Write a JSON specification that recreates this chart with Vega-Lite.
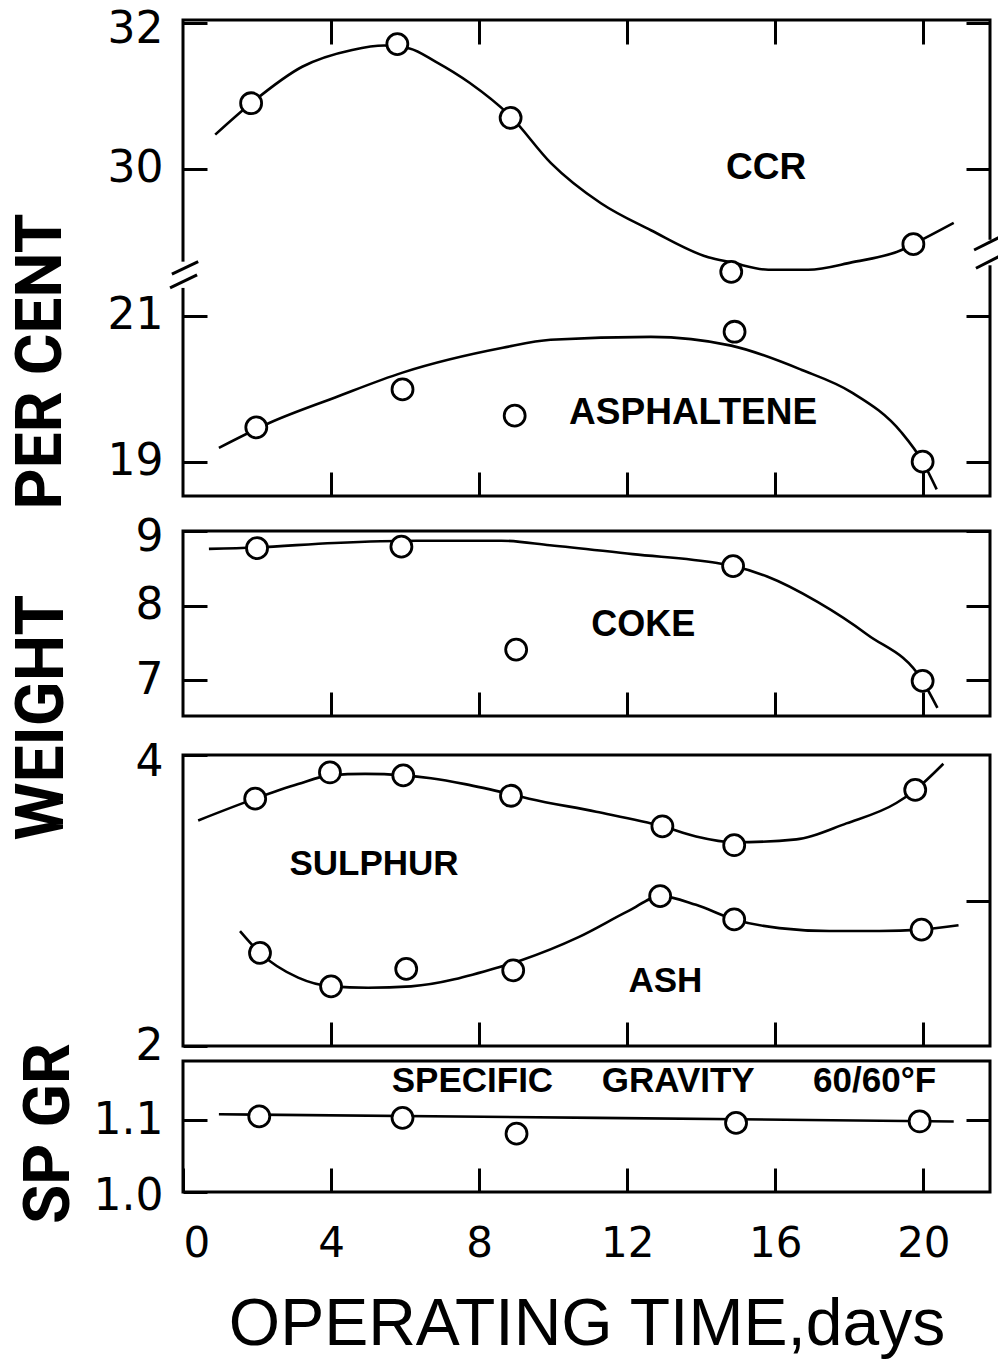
{
  "$schema": "https://vega.github.io/schema/vega-lite/v6.json",
  "background": "white",
  "padding": {"left": 7, "top": 6, "right": 5, "bottom": 0},
  "autosize": {"type": "pad"},
  "datasets": {
    "ccr_curve": [
      {"day": 0.87, "value": 30.47}, {"day": 1.84, "value": 30.9}, {"day": 3.22, "value": 31.4},
      {"day": 4.57, "value": 31.63}, {"day": 5.44, "value": 31.69}, {"day": 6.12, "value": 31.65},
      {"day": 6.82, "value": 31.47}, {"day": 7.74, "value": 31.18}, {"day": 8.85, "value": 30.72},
      {"day": 9.94, "value": 30.08}, {"day": 11.29, "value": 29.53}, {"day": 12.64, "value": 29.16},
      {"day": 14.19, "value": 28.79}, {"day": 14.81, "value": 28.72}, {"day": 15.81, "value": 28.62},
      {"day": 16.89, "value": 28.62}, {"day": 18.06, "value": 28.72}, {"day": 19.41, "value": 28.89},
      {"day": 19.73, "value": 28.97}, {"day": 20.82, "value": 29.26}
    ],
    "ccr_points": [
      {"day": 1.84, "value": 30.9}, {"day": 5.79, "value": 31.71}, {"day": 8.85, "value": 30.7},
      {"day": 14.81, "value": 28.59}, {"day": 19.73, "value": 28.97}
    ],
    "asph_curve": [
      {"day": 0.97, "value": 19.19}, {"day": 2.33, "value": 19.53}, {"day": 4.11, "value": 19.88},
      {"day": 5.93, "value": 20.22}, {"day": 8.64, "value": 20.56}, {"day": 9.93, "value": 20.67},
      {"day": 12.64, "value": 20.71}, {"day": 14.81, "value": 20.59}, {"day": 16.7, "value": 20.26},
      {"day": 18.06, "value": 19.95}, {"day": 19.41, "value": 19.4}, {"day": 19.98, "value": 19.0},
      {"day": 20.36, "value": 18.62}
    ],
    "asph_points": [
      {"day": 1.98, "value": 19.47}, {"day": 5.93, "value": 19.99}, {"day": 8.96, "value": 19.63},
      {"day": 14.9, "value": 20.78}, {"day": 19.98, "value": 19.0}
    ],
    "break_gaps": [
      {"day": -0.1, "day2": 0.1, "lo": 28.37, "hi": 28.73},
      {"day": 21.7, "day2": 21.9, "lo": 28.68, "hi": 29.03}
    ],
    "break_strokes": [
      {"day": -0.3, "value": 28.56, "day2": 0.41, "value2": 28.73},
      {"day": -0.35, "value": 28.37, "day2": 0.38, "value2": 28.55},
      {"day": 21.37, "value": 28.89, "day2": 22.12, "value2": 29.08},
      {"day": 21.42, "value": 28.64, "day2": 22.12, "value2": 28.82}
    ],
    "coke_curve": [
      {"day": 0.7, "value": 8.76}, {"day": 2.0, "value": 8.78}, {"day": 4.09, "value": 8.84},
      {"day": 6.31, "value": 8.87}, {"day": 8.6, "value": 8.87}, {"day": 9.91, "value": 8.81},
      {"day": 12.15, "value": 8.69}, {"day": 14.43, "value": 8.57}, {"day": 14.86, "value": 8.53},
      {"day": 15.78, "value": 8.39}, {"day": 17.14, "value": 8.05}, {"day": 18.49, "value": 7.61},
      {"day": 19.98, "value": 6.99}, {"day": 20.38, "value": 6.63}
    ],
    "coke_points": [
      {"day": 2.0, "value": 8.77}, {"day": 5.9, "value": 8.79}, {"day": 9.0, "value": 7.41},
      {"day": 14.86, "value": 8.53}, {"day": 19.98, "value": 6.99}
    ],
    "sulphur_curve": [
      {"day": 0.41, "value": 3.55}, {"day": 1.95, "value": 3.7}, {"day": 3.11, "value": 3.8},
      {"day": 3.97, "value": 3.86}, {"day": 4.92, "value": 3.87}, {"day": 5.95, "value": 3.86},
      {"day": 6.7, "value": 3.84}, {"day": 7.62, "value": 3.8}, {"day": 8.86, "value": 3.73},
      {"day": 9.35, "value": 3.7}, {"day": 11.16, "value": 3.61}, {"day": 12.95, "value": 3.51},
      {"day": 13.86, "value": 3.44}, {"day": 14.89, "value": 3.4}, {"day": 16.57, "value": 3.42},
      {"day": 17.92, "value": 3.53}, {"day": 19.27, "value": 3.67}, {"day": 19.78, "value": 3.76},
      {"day": 20.54, "value": 3.94}
    ],
    "sulphur_points": [
      {"day": 1.95, "value": 3.7}, {"day": 3.97, "value": 3.88}, {"day": 5.95, "value": 3.86},
      {"day": 8.86, "value": 3.72}, {"day": 12.95, "value": 3.51}, {"day": 14.89, "value": 3.38},
      {"day": 19.78, "value": 3.76}
    ],
    "ash_curve": [
      {"day": 1.54, "value": 2.79}, {"day": 2.08, "value": 2.64}, {"day": 3.11, "value": 2.47},
      {"day": 4.0, "value": 2.41}, {"day": 5.0, "value": 2.4}, {"day": 6.16, "value": 2.41},
      {"day": 8.51, "value": 2.54}, {"day": 9.14, "value": 2.59}, {"day": 10.7, "value": 2.75},
      {"day": 12.05, "value": 2.93}, {"day": 12.89, "value": 3.03}, {"day": 13.86, "value": 2.97},
      {"day": 14.89, "value": 2.87}, {"day": 16.11, "value": 2.81}, {"day": 17.46, "value": 2.79},
      {"day": 18.81, "value": 2.79}, {"day": 19.95, "value": 2.8}, {"day": 20.95, "value": 2.83}
    ],
    "ash_points": [
      {"day": 2.08, "value": 2.64}, {"day": 4.0, "value": 2.41}, {"day": 6.03, "value": 2.53},
      {"day": 8.92, "value": 2.52}, {"day": 12.89, "value": 3.03}, {"day": 14.89, "value": 2.87},
      {"day": 19.95, "value": 2.8}
    ],
    "sg_curve": [
      {"day": 0.97, "value": 1.108}, {"day": 11.2, "value": 1.103}, {"day": 20.82, "value": 1.098}
    ],
    "sg_points": [
      {"day": 2.06, "value": 1.105}, {"day": 5.93, "value": 1.103}, {"day": 9.01, "value": 1.081},
      {"day": 14.94, "value": 1.096}, {"day": 19.9, "value": 1.098}
    ],
    "labels_ccr": [{"label": "CCR", "day": 15.75, "value": 30.01}],
    "labels_asph": [{"label": "ASPHALTENE", "day": 13.78, "value": 19.67}],
    "labels_coke": [{"label": "COKE", "day": 12.43, "value": 7.74}],
    "labels_s_ash": [
      {"label": "SULPHUR", "day": 5.16, "value": 3.25},
      {"label": "ASH", "day": 13.03, "value": 2.45}
    ],
    "labels_sg": [{"label": "SPECIFIC\u00a0\u00a0\u00a0\u00a0\u00a0GRAVITY\u00a0\u00a0\u00a0\u00a0\u00a0\u00a060/60°F", "day": 12.99, "value": 1.154}]
  },
  "config": {
    "font": "Liberation Sans",
    "view": {"stroke": "black", "strokeWidth": 3},
    "axis": {
      "domain": false,
      "grid": false,
      "ticks": true,
      "tickColor": "black",
      "tickWidth": 3,
      "tickSize": -24,
      "labelFont": "DejaVu Sans",
      "labelColor": "black",
      "titleColor": "black"
    },
    "axisX": {"labelFontSize": 42, "labelPadding": 55},
    "axisY": {"labelFontSize": 44, "labelPadding": 44}
  },
  "spacing": 35,
  "bounds": "flush",
  "vconcat": [
    {
      "width": 807,
      "height": 476,
      "resolve": {"scale": {"y": "independent"}, "axis": {"x": "independent", "y": "independent"}},
      "layer": [
        {
          "data": {"name": "break_gaps"},
          "mark": {"type": "rect", "fill": "white"},
          "encoding": {
            "x": {"field": "day", "type": "quantitative", "scale": {"domain": [0, 21.8], "nice": false, "zero": false}, "axis": null},
            "x2": {"field": "day2"},
            "y": {"field": "lo", "type": "quantitative", "scale": {"domain": [25.52, 32.04], "nice": false, "zero": false}, "axis": null},
            "y2": {"field": "hi"}
          }
        },
        {
          "data": {"name": "break_strokes"},
          "mark": {"type": "rule", "stroke": "black", "strokeWidth": 3},
          "encoding": {
            "x": {"field": "day", "type": "quantitative", "scale": {"domain": [0, 21.8], "nice": false, "zero": false}, "axis": null},
            "x2": {"field": "day2"},
            "y": {"field": "value", "type": "quantitative", "scale": {"domain": [25.52, 32.04], "nice": false, "zero": false}, "axis": null},
            "y2": {"field": "value2"}
          }
        },
        {
          "data": {"name": "ccr_curve"},
          "mark": {"type": "line", "stroke": "black", "strokeWidth": 2.6, "interpolate": "monotone"},
          "encoding": {
            "x": {"field": "day", "type": "quantitative", "scale": {"domain": [0, 21.8], "nice": false, "zero": false},
                  "axis": {"orient": "bottom", "values": [4, 8, 12, 16, 20], "labels": false, "title": null}},
            "y": {"field": "value", "type": "quantitative", "scale": {"domain": [25.52, 32.04], "nice": false, "zero": false},
                  "axis": {"orient": "left", "values": [30, 32], "format": "d", "title": null,
                           "labelOffset": {"condition": {"test": "datum.value === 32", "value": 7}, "value": 0}}}
          }
        },
        {
          "data": {"name": "ccr_points"},
          "mark": {"type": "point", "shape": "circle", "filled": true, "fill": "white", "stroke": "black", "strokeWidth": 2.8, "size": 440, "opacity": 1},
          "encoding": {
            "x": {"field": "day", "type": "quantitative", "scale": {"domain": [0, 21.8], "nice": false, "zero": false},
                  "axis": {"orient": "top", "values": [4, 8, 12, 16, 20], "labels": false, "title": null}},
            "y": {"field": "value", "type": "quantitative", "scale": {"domain": [25.52, 32.04], "nice": false, "zero": false},
                  "axis": {"orient": "right", "values": [30, 32], "labels": false, "title": null}}
          }
        },
        {
          "data": {"name": "asph_curve"},
          "mark": {"type": "line", "stroke": "black", "strokeWidth": 2.6, "interpolate": "monotone"},
          "encoding": {
            "x": {"field": "day", "type": "quantitative", "scale": {"domain": [0, 21.8], "nice": false, "zero": false}, "axis": null},
            "y": {"field": "value", "type": "quantitative", "scale": {"domain": [18.53, 25.05], "nice": false, "zero": false},
                  "axis": {"orient": "left", "values": [19, 21], "format": "d", "title": "PER CENT",
                           "titleFont": "Roboto", "titleFontWeight": "bold", "titleFontSize": 64,
                           "titleAngle": -90, "titleBaseline": "alphabetic", "titleAlign": "center",
                           "titleX": -123, "titleY": 341}}
          }
        },
        {
          "data": {"name": "asph_points"},
          "mark": {"type": "point", "shape": "circle", "filled": true, "fill": "white", "stroke": "black", "strokeWidth": 2.8, "size": 440, "opacity": 1},
          "encoding": {
            "x": {"field": "day", "type": "quantitative", "scale": {"domain": [0, 21.8], "nice": false, "zero": false}, "axis": null},
            "y": {"field": "value", "type": "quantitative", "scale": {"domain": [18.53, 25.05], "nice": false, "zero": false},
                  "axis": {"orient": "right", "values": [19, 21], "labels": false, "title": null}}
          }
        },
        {
          "data": {"name": "labels_ccr"},
          "mark": {"type": "text", "font": "Liberation Sans", "fontWeight": "bold", "fontSize": 37, "align": "center", "baseline": "middle", "color": "black"},
          "encoding": {
            "x": {"field": "day", "type": "quantitative", "scale": {"domain": [0, 21.8], "nice": false, "zero": false}, "axis": null},
            "y": {"field": "value", "type": "quantitative", "scale": {"domain": [25.52, 32.04], "nice": false, "zero": false}, "axis": null},
            "text": {"field": "label"}
          }
        },
        {
          "data": {"name": "labels_asph"},
          "mark": {"type": "text", "font": "Liberation Sans", "fontWeight": "bold", "fontSize": 37, "align": "center", "baseline": "middle", "color": "black"},
          "encoding": {
            "x": {"field": "day", "type": "quantitative", "scale": {"domain": [0, 21.8], "nice": false, "zero": false}, "axis": null},
            "y": {"field": "value", "type": "quantitative", "scale": {"domain": [18.53, 25.05], "nice": false, "zero": false}, "axis": null},
            "text": {"field": "label"}
          }
        }
      ]
    },
    {
      "spacing": 39,
      "bounds": "flush",
      "vconcat": [
        {
          "width": 807,
          "height": 185,
          "resolve": {"axis": {"x": "independent", "y": "independent"}},
          "layer": [
            {
              "data": {"name": "coke_curve"},
              "mark": {"type": "line", "stroke": "black", "strokeWidth": 2.6, "interpolate": "monotone"},
              "encoding": {
                "x": {"field": "day", "type": "quantitative", "scale": {"domain": [0, 21.8], "nice": false, "zero": false},
                      "axis": {"orient": "bottom", "values": [4, 8, 12, 16, 20], "labels": false, "title": null}},
                "y": {"field": "value", "type": "quantitative", "scale": {"domain": [6.52, 9.0], "nice": false, "zero": false},
                      "axis": {"orient": "left", "values": [7, 8, 9], "format": "d", "title": "WEIGHT",
                               "labelOffset": {"condition": {"test": "datum.value === 9", "value": 6}, "value": 0},
                               "titleFont": "Roboto", "titleFontWeight": "bold", "titleFontSize": 66,
                               "titleAngle": -90, "titleBaseline": "alphabetic", "titleAlign": "center",
                               "titleX": -121, "titleY": 186}}
              }
            },
            {
              "data": {"name": "coke_points"},
              "mark": {"type": "point", "shape": "circle", "filled": true, "fill": "white", "stroke": "black", "strokeWidth": 2.8, "size": 440, "opacity": 1},
              "encoding": {
                "x": {"field": "day", "type": "quantitative", "scale": {"domain": [0, 21.8], "nice": false, "zero": false}, "axis": null},
                "y": {"field": "value", "type": "quantitative", "scale": {"domain": [6.52, 9.0], "nice": false, "zero": false},
                      "axis": {"orient": "right", "values": [7, 8, 9], "labels": false, "title": null}}
              }
            },
            {
              "data": {"name": "labels_coke"},
              "mark": {"type": "text", "font": "Liberation Sans", "fontWeight": "bold", "fontSize": 36, "align": "center", "baseline": "middle", "color": "black"},
              "encoding": {
                "x": {"field": "day", "type": "quantitative", "scale": {"domain": [0, 21.8], "nice": false, "zero": false}, "axis": null},
                "y": {"field": "value", "type": "quantitative", "scale": {"domain": [6.52, 9.0], "nice": false, "zero": false}, "axis": null},
                "text": {"field": "label"}
              }
            }
          ]
        },
        {
          "spacing": 15,
          "bounds": "flush",
          "vconcat": [
            {
              "width": 807,
              "height": 291,
              "resolve": {"axis": {"x": "independent", "y": "independent"}},
              "layer": [
                {
                  "data": {"name": "sulphur_curve"},
                  "mark": {"type": "line", "stroke": "black", "strokeWidth": 2.6, "interpolate": "monotone"},
                  "encoding": {
                    "x": {"field": "day", "type": "quantitative", "scale": {"domain": [0, 21.8], "nice": false, "zero": false},
                          "axis": {"orient": "bottom", "values": [4, 8, 12, 16, 20], "labels": false, "title": null}},
                    "y": {"field": "value", "type": "quantitative", "scale": {"domain": [2, 4], "nice": false, "zero": false},
                          "axis": {"orient": "left", "values": [2, 3, 4], "format": "d", "title": null,
                                   "labelOffset": {"condition": {"test": "datum.value === 4", "value": 7}, "value": 0}}}
                  }
                },
                {
                  "data": {"name": "ash_curve"},
                  "mark": {"type": "line", "stroke": "black", "strokeWidth": 2.6, "interpolate": "monotone"},
                  "encoding": {
                    "x": {"field": "day", "type": "quantitative", "scale": {"domain": [0, 21.8], "nice": false, "zero": false}, "axis": null},
                    "y": {"field": "value", "type": "quantitative", "scale": {"domain": [2, 4], "nice": false, "zero": false}, "axis": null}
                  }
                },
                {
                  "data": {"name": "sulphur_points"},
                  "mark": {"type": "point", "shape": "circle", "filled": true, "fill": "white", "stroke": "black", "strokeWidth": 2.8, "size": 440, "opacity": 1},
                  "encoding": {
                    "x": {"field": "day", "type": "quantitative", "scale": {"domain": [0, 21.8], "nice": false, "zero": false}, "axis": null},
                    "y": {"field": "value", "type": "quantitative", "scale": {"domain": [2, 4], "nice": false, "zero": false},
                          "axis": {"orient": "right", "values": [3], "labels": false, "title": null}}
                  }
                },
                {
                  "data": {"name": "ash_points"},
                  "mark": {"type": "point", "shape": "circle", "filled": true, "fill": "white", "stroke": "black", "strokeWidth": 2.8, "size": 440, "opacity": 1},
                  "encoding": {
                    "x": {"field": "day", "type": "quantitative", "scale": {"domain": [0, 21.8], "nice": false, "zero": false}, "axis": null},
                    "y": {"field": "value", "type": "quantitative", "scale": {"domain": [2, 4], "nice": false, "zero": false}, "axis": null}
                  }
                },
                {
                  "data": {"name": "labels_s_ash"},
                  "mark": {"type": "text", "font": "Liberation Sans", "fontWeight": "bold", "fontSize": 35, "align": "center", "baseline": "middle", "color": "black"},
                  "encoding": {
                    "x": {"field": "day", "type": "quantitative", "scale": {"domain": [0, 21.8], "nice": false, "zero": false}, "axis": null},
                    "y": {"field": "value", "type": "quantitative", "scale": {"domain": [2, 4], "nice": false, "zero": false}, "axis": null},
                    "text": {"field": "label"}
                  }
                }
              ]
            },
            {
              "width": 807,
              "height": 131,
              "resolve": {"axis": {"x": "independent", "y": "independent"}},
              "layer": [
                {
                  "data": {"name": "sg_curve"},
                  "mark": {"type": "line", "stroke": "black", "strokeWidth": 2.6, "interpolate": "monotone"},
                  "encoding": {
                    "x": {"field": "day", "type": "quantitative", "scale": {"domain": [0, 21.8], "nice": false, "zero": false},
                          "axis": {"orient": "bottom", "values": [0, 4, 8, 12, 16, 20], "format": "d", "title": "OPERATING TIME,days",
                                   "titleFont": "Liberation Sans", "titleFontWeight": "normal", "titleFontSize": 66,
                                   "titleBaseline": "alphabetic", "titleY": 152}},
                    "y": {"field": "value", "type": "quantitative", "scale": {"domain": [1.0, 1.182], "nice": false, "zero": false},
                          "axis": {"orient": "left", "values": [1.0, 1.1], "format": ".1f", "title": "SP GR",
                                   "labelOffset": {"condition": {"test": "datum.value === 1", "value": 4}, "value": 0},
                                   "titleFont": "Roboto", "titleFontWeight": "bold", "titleFontSize": 64,
                                   "titleAngle": -90, "titleBaseline": "alphabetic", "titleAlign": "center",
                                   "titleX": -115, "titleY": 72}}
                  }
                },
                {
                  "data": {"name": "sg_points"},
                  "mark": {"type": "point", "shape": "circle", "filled": true, "fill": "white", "stroke": "black", "strokeWidth": 2.8, "size": 440, "opacity": 1},
                  "encoding": {
                    "x": {"field": "day", "type": "quantitative", "scale": {"domain": [0, 21.8], "nice": false, "zero": false}, "axis": null},
                    "y": {"field": "value", "type": "quantitative", "scale": {"domain": [1.0, 1.182], "nice": false, "zero": false},
                          "axis": {"orient": "right", "values": [1.1], "labels": false, "title": null}}
                  }
                },
                {
                  "data": {"name": "labels_sg"},
                  "mark": {"type": "text", "font": "Liberation Sans", "fontWeight": "bold", "fontSize": 35, "align": "center", "baseline": "middle", "color": "black"},
                  "encoding": {
                    "x": {"field": "day", "type": "quantitative", "scale": {"domain": [0, 21.8], "nice": false, "zero": false}, "axis": null},
                    "y": {"field": "value", "type": "quantitative", "scale": {"domain": [1.0, 1.182], "nice": false, "zero": false}, "axis": null},
                    "text": {"field": "label"}
                  }
                }
              ]
            }
          ]
        }
      ]
    }
  ]
}
